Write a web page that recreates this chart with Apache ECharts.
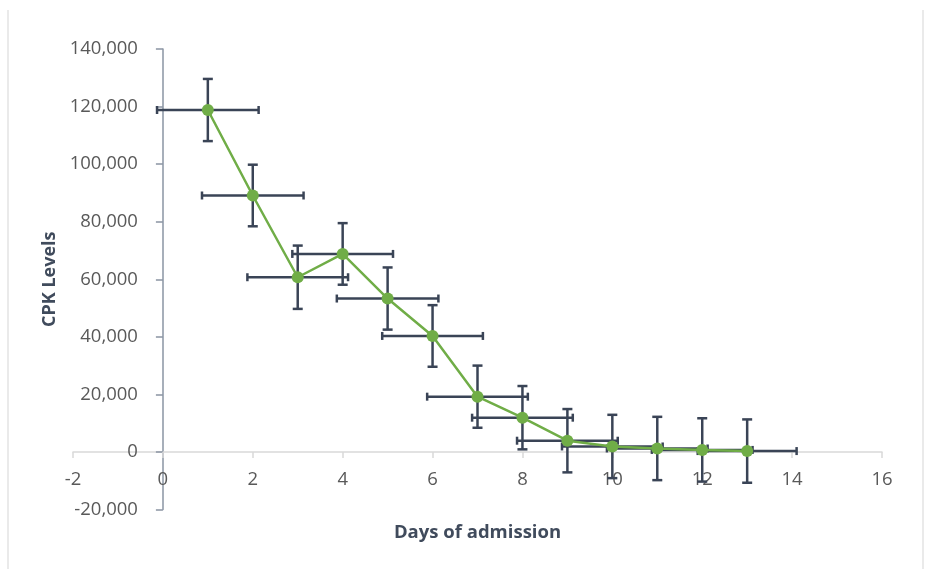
<!DOCTYPE html>
<html>
<head>
<meta charset="utf-8">
<script src="https://cdn.jsdelivr.net/npm/echarts@6/dist/echarts.min.js"></script>
<style>
html,body{margin:0;padding:0;background:#fff;}
#chart{width:928px;height:569px;}
</style>
</head>
<body>
<div id="chart"></div>
<script>
const days = [1, 2, 3, 4, 5, 6, 7, 8, 9, 10, 11, 12, 13];
const cpkLevels = [118800, 89100, 60700, 68800, 53300, 40300, 19200, 11900, 3900, 1900, 1200, 700, 300];
const cpkErr = [10800, 10700, 11000, 10700, 10800, 10700, 10800, 11000, 11000, 11000, 11000, 11000, 11000];
const dayErr = [1.13, 1.13, 1.12, 1.12, 1.13, 1.12, 1.12, 1.12, 1.12, 1.12, 1.12, 1.12, 1.1];

const xTitle = 'Days of admission';
const yTitle = 'CPK Levels';

const lineData = days.map((d, i) => [d, cpkLevels[i]]);
const errData = days.map((d, i) => [d, cpkLevels[i], dayErr[i], cpkErr[i]]);

const errColor = '#3a4456';
const green = '#70ad47';
const font = 'Open Sans';

function renderErr(params, api) {
  const x = api.value(0), y = api.value(1), xe = api.value(2), ye = api.value(3);
  const c = api.coord([x, y]);
  const l = api.coord([x - xe, y]);
  const r = api.coord([x + xe, y]);
  const t = api.coord([x, y + ye]);
  const b = api.coord([x, y - ye]);
  const capW = 5, capH = 4;
  const style = { stroke: errColor, lineWidth: 2.5 };
  const seg = (x1, y1, x2, y2) => ({ type: 'line', shape: { x1, y1, x2, y2 }, style });
  return {
    type: 'group',
    children: [
      seg(l[0], c[1], r[0], c[1]),
      seg(l[0], c[1] - capH, l[0], c[1] + capH),
      seg(r[0], c[1] - capH, r[0], c[1] + capH),
      seg(c[0], t[1], c[0], b[1]),
      seg(c[0] - capW, t[1], c[0] + capW, t[1]),
      seg(c[0] - capW, b[1], c[0] + capW, b[1])
    ]
  };
}

const chart = echarts.init(document.getElementById('chart'), null, { renderer: 'canvas' });
chart.setOption({
  animation: false,
  backgroundColor: '#fff',
  grid: { left: 73, right: 46, top: 49, bottom: 59.5, containLabel: false, outerBoundsMode: 'none' },
  xAxis: {
    type: 'value', min: -2, max: 16, interval: 2,
    position: 'bottom', offset: -57.6,
    splitLine: { show: false },
    axisLine: { show: true, onZero: false, lineStyle: { color: '#d9d9d9', width: 1.5 } },
    axisTick: { show: true, length: 6, lineStyle: { color: '#d9d9d9', width: 1.5 } },
    axisLabel: { color: '#595959', fontFamily: font, fontSize: 18.5, margin: 18 },
    name: xTitle, nameLocation: 'middle', nameGap: 71,
    nameTextStyle: { color: '#404b5c', fontFamily: font, fontSize: 18.5, fontWeight: 'bold' }
  },
  yAxis: {
    type: 'value', min: -20000, max: 140000, interval: 20000,
    position: 'left', offset: -89.9,
    splitLine: { show: false },
    axisLine: { show: true, onZero: false, lineStyle: { color: '#8a94a3', width: 1.5 } },
    axisTick: { show: true, length: 7, lineStyle: { color: '#8a94a3', width: 1.5 } },
    axisLabel: { color: '#595959', fontFamily: font, fontSize: 18.5, margin: 25,
      formatter: v => v.toLocaleString('en-US') },
    name: yTitle, nameLocation: 'middle', nameGap: 94,
    nameTextStyle: { color: '#404b5c', fontFamily: font, fontSize: 18, fontWeight: 'bold' }
  },
  graphic: [
    { type: 'line', shape: { x1: 8, y1: 10, x2: 8, y2: 569 }, style: { stroke: '#e3e3e3', lineWidth: 1.5 }, silent: true },
    { type: 'line', shape: { x1: 923, y1: 10, x2: 923, y2: 569 }, style: { stroke: '#e3e3e3', lineWidth: 1.5 }, silent: true }
  ],
  series: [
    {
      type: 'custom', name: 'error', data: errData, renderItem: renderErr, z: 2,
      encode: { x: 0, y: 1 }
    },
    {
      type: 'line', name: yTitle, data: lineData, z: 3,
      symbol: 'circle', symbolSize: 12,
      lineStyle: { color: green, width: 2.5 },
      itemStyle: { color: green }
    }
  ]
});
</script>
</body>
</html>
